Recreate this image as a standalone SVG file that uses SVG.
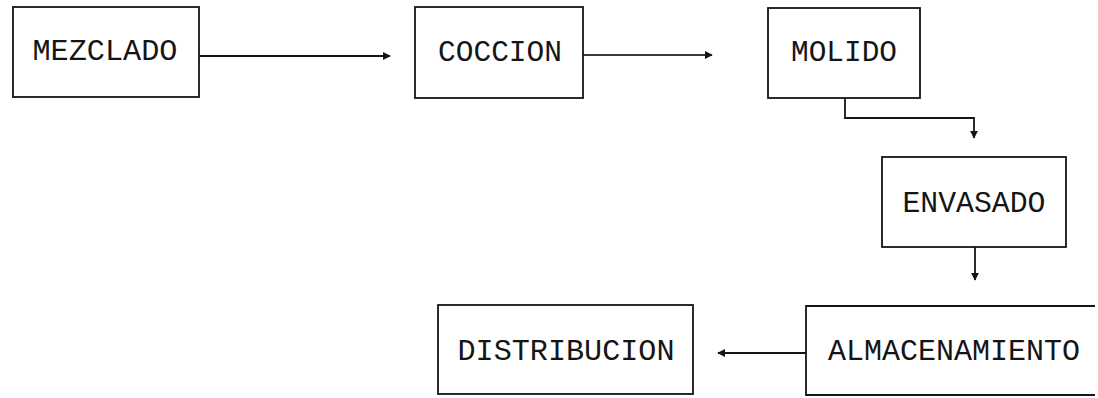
<svg xmlns="http://www.w3.org/2000/svg" width="1098" height="398" viewBox="0 0 1098 398">
  <style>
    .box { fill: none; stroke: #151515; stroke-width: 1.8; }
    .label { font-family: "Liberation Mono", "DejaVu Sans Mono", monospace; font-size: 29px; fill: #151515; text-anchor: middle; }
    .wire { fill: none; stroke: #151515; stroke-width: 1.8; }
  </style>
  <defs>
    <marker id="head" viewBox="0 0 10 10" refX="9" refY="5" markerWidth="4.5" markerHeight="4.5" orient="auto" markerUnits="strokeWidth">
      <path d="M0,0 L10,5 L0,10 z" fill="#151515"/>
    </marker>
  </defs>
  <rect width="1098" height="398" fill="#ffffff"/>

  <g id="mezclado">
    <rect class="box" x="13" y="7" width="186" height="90"/>
    <text class="label" x="105" y="60" textLength="145" lengthAdjust="spacingAndGlyphs">MEZCLADO</text>
  </g>

  <g id="coccion">
    <rect class="box" x="415" y="7" width="168" height="91"/>
    <text class="label" x="500" y="61" textLength="124" lengthAdjust="spacingAndGlyphs">COCCION</text>
  </g>

  <g id="molido">
    <rect class="box" x="768" y="8" width="152" height="90"/>
    <text class="label" x="844" y="61" textLength="106" lengthAdjust="spacingAndGlyphs">MOLIDO</text>
  </g>

  <g id="envasado">
    <rect class="box" x="882" y="157" width="184" height="90"/>
    <text class="label" x="974" y="212" textLength="143" lengthAdjust="spacingAndGlyphs">ENVASADO</text>
  </g>

  <g id="almacenamiento">
    <!-- open on the right: the frame runs off the sheet edge -->
    <path class="box" d="M1095,306 H806 V395 H1095"/>
    <text class="label" x="954" y="360" textLength="252" lengthAdjust="spacingAndGlyphs">ALMACENAMIENTO</text>
  </g>

  <g id="distribucion">
    <rect class="box" x="438" y="305" width="255" height="89"/>
    <text class="label" x="566" y="360" textLength="217" lengthAdjust="spacingAndGlyphs">DISTRIBUCION</text>
  </g>

  <g id="connectors">
    <line class="wire" x1="199" y1="56" x2="390" y2="56" marker-end="url(#head)"/>
    <line class="wire" x1="583" y1="55" x2="712" y2="55" marker-end="url(#head)" stroke-opacity="0.85"/>
    <polyline class="wire" points="845,98 845,118 974,118 974,138" marker-end="url(#head)"/>
    <line class="wire" x1="975" y1="247" x2="975" y2="280" marker-end="url(#head)"/>
    <line class="wire" x1="806" y1="353" x2="718" y2="353" marker-end="url(#head)"/>
  </g>
</svg>
